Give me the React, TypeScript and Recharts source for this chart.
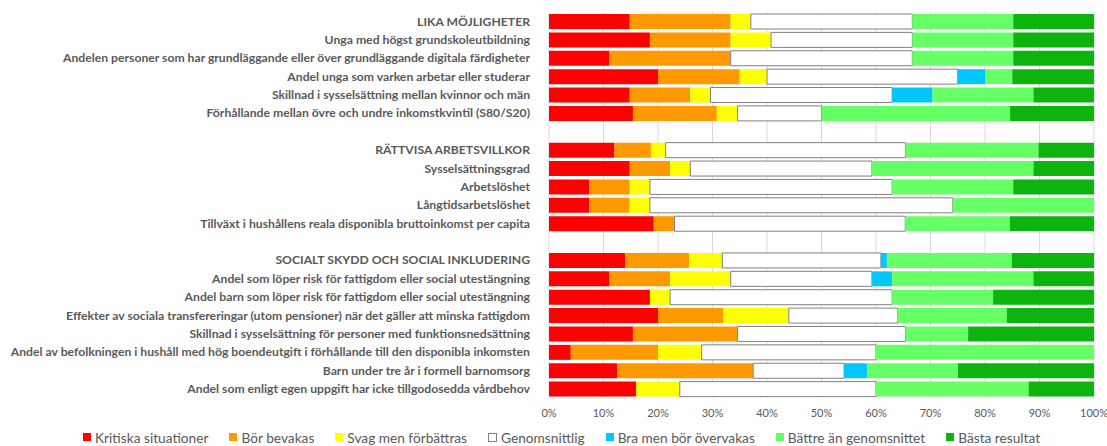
import React from "react";
import { BarChart, Bar, XAxis, YAxis, CartesianGrid, Legend } from "recharts";

const categories = [
  "LIKA MÖJLIGHETER",
  "Unga med högst grundskoleutbildning",
  "Andelen personer som har grundläggande eller över grundläggande digitala färdigheter",
  "Andel unga som varken arbetar eller studerar",
  "Skillnad i sysselsättning mellan kvinnor och män",
  "Förhållande mellan övre och undre inkomstkvintil (S80/S20)",
  " ",
  "RÄTTVISA ARBETSVILLKOR",
  "Sysselsättningsgrad",
  "Arbetslöshet",
  "Långtidsarbetslöshet",
  "Tillväxt i hushållens reala disponibla bruttoinkomst per capita",
  "  ",
  "SOCIALT SKYDD OCH SOCIAL INKLUDERING",
  "Andel som löper risk för fattigdom eller social utestängning",
  "Andel barn som löper risk för fattigdom eller social utestängning",
  "Effekter av sociala transfereringar (utom pensioner) när det gäller att minska fattigdom",
  "Skillnad i sysselsättning för personer med funktionsnedsättning",
  "Andel av befolkningen i hushåll med hög boendeutgift i förhållande till den disponibla inkomsten",
  "Barn under tre år i formell barnomsorg",
  "Andel som enligt egen uppgift har icke tillgodosedda vårdbehov",
];

const kritiska = [14.8, 18.5, 11.1, 20, 14.8, 15.4, 0, 12, 14.8, 7.4, 7.4, 19.2, 0, 14, 11.1, 18.5, 20, 15.4, 4, 12.5, 16];
const borBevakas = [18.5, 14.8, 22.2, 15, 11.1, 15.4, 0, 6.7, 7.4, 7.4, 7.4, 3.8, 0, 11.7, 11.1, 0, 12, 19.2, 16, 25, 0];
const svag = [3.7, 7.4, 0, 5, 3.7, 3.8, 0, 2.7, 3.7, 3.7, 3.7, 0, 0, 6.1, 11.1, 3.7, 12, 0, 8, 0, 8];
const genomsnittlig = [29.6, 25.9, 33.3, 35, 33.3, 15.4, 0, 44, 33.3, 44.4, 55.6, 42.3, 0, 29.1, 25.9, 40.7, 20, 30.8, 32, 16.7, 36];
const bra = [0, 0, 0, 5, 7.4, 0, 0, 0, 0, 0, 0, 0, 0, 1.1, 3.7, 0, 0, 0, 0, 4.2, 0];
const battre = [18.5, 18.5, 18.5, 5, 18.5, 34.6, 0, 24.4, 29.6, 22.2, 25.9, 19.2, 0, 22.9, 25.9, 18.5, 20, 11.5, 40, 16.7, 28];
const basta = [14.8, 14.8, 14.8, 15, 11.1, 15.4, 0, 10.2, 11.1, 14.8, 0, 15.4, 0, 15.1, 11.1, 18.5, 16, 23.1, 0, 25, 12];

const xTicks = [0, 0.1, 0.2, 0.3, 0.4, 0.5, 0.6, 0.7, 0.8, 0.9, 1];

const seriesDefs = [
  { key: "kritiska", name: "Kritiska situationer", color: "#FF0000" },
  { key: "borBevakas", name: "Bör bevakas", color: "#FF9900" },
  { key: "svag", name: "Svag men förbättras", color: "#FFFF00" },
  { key: "genomsnittlig", name: "Genomsnittlig", color: "#FFFFFF", stroke: "#808080" },
  { key: "bra", name: "Bra men bör övervakas", color: "#00C8FF" },
  { key: "battre", name: "Bättre än genomsnittet", color: "#66FF66" },
  { key: "basta", name: "Bästa resultat", color: "#0DB40D" },
];

const data = categories.map((name, i) => ({
  name,
  kritiska: kritiska[i],
  borBevakas: borBevakas[i],
  svag: svag[i],
  genomsnittlig: genomsnittlig[i],
  bra: bra[i],
  battre: battre[i],
  basta: basta[i],
}));

const CategoryTick = (props: any) => {
  const { x, y, payload } = props;
  return (
    <text
      x={x}
      y={y}
      dy="0.355em"
      textAnchor="end"
      fill="#595959"
      fontSize={12.2}
      fontWeight={700}
      fontFamily="Lato, sans-serif"
    >
      {payload.value}
    </text>
  );
};

const LegendContent = () => (
  <div
    style={{
      display: "flex",
      alignItems: "center",
      height: 18,
      paddingLeft: 83,
      fontFamily: "Lato, sans-serif",
      fontSize: 13.7,
      color: "#595959",
      whiteSpace: "nowrap",
    }}
  >
    {seriesDefs.map((s) => (
      <div key={s.key} style={{ display: "flex", alignItems: "center", marginRight: 21 }}>
        <span
          style={{
            display: "inline-block",
            width: s.stroke ? 7 : 8,
            height: s.stroke ? 7 : 8,
            background: s.color,
            border: s.stroke ? `1px solid ${s.stroke}` : "none",
            marginRight: 4,
          }}
        />
        <span>{s.name}</span>
      </div>
    ))}
  </div>
);

export default function App() {
  return (
    <div style={{ position: "absolute", left: 0, top: 0, background: "#fff" }}>
      <BarChart
        width={1107}
        height={446}
        data={data}
        layout="vertical"
        stackOffset="expand"
        margin={{ top: 12, right: 13, bottom: 0, left: 0 }}
        style={{ fontFamily: "Lato, sans-serif" }}
      >
        <CartesianGrid horizontal={false} stroke="#D9D9D9" />
        <XAxis
          type="number"
          domain={[0, 1]}
          ticks={xTicks}
          tickFormatter={(v: number) => `${Math.round(v * 100)}%`}
          axisLine={false}
          tickLine={false}
          tickMargin={5}
          height={30}
          tick={{ fill: "#595959", fontSize: 11 }}
          interval={0}
        />
        <YAxis
          type="category"
          dataKey="name"
          width={549}
          axisLine={false}
          tickLine={false}
          tickMargin={13}
          interval={0}
          tick={<CategoryTick />}
        />
        <Legend verticalAlign="bottom" content={<LegendContent />} />
        {seriesDefs.map((s) => (
          <Bar
            key={s.key}
            dataKey={s.key}
            name={s.name}
            stackId="a"
            fill={s.color}
            stroke={s.stroke || "none"}
            strokeWidth={s.stroke ? 1 : 0}
            barSize={15}
            isAnimationActive={false}
          />
        ))}
      </BarChart>
    </div>
  );
}
